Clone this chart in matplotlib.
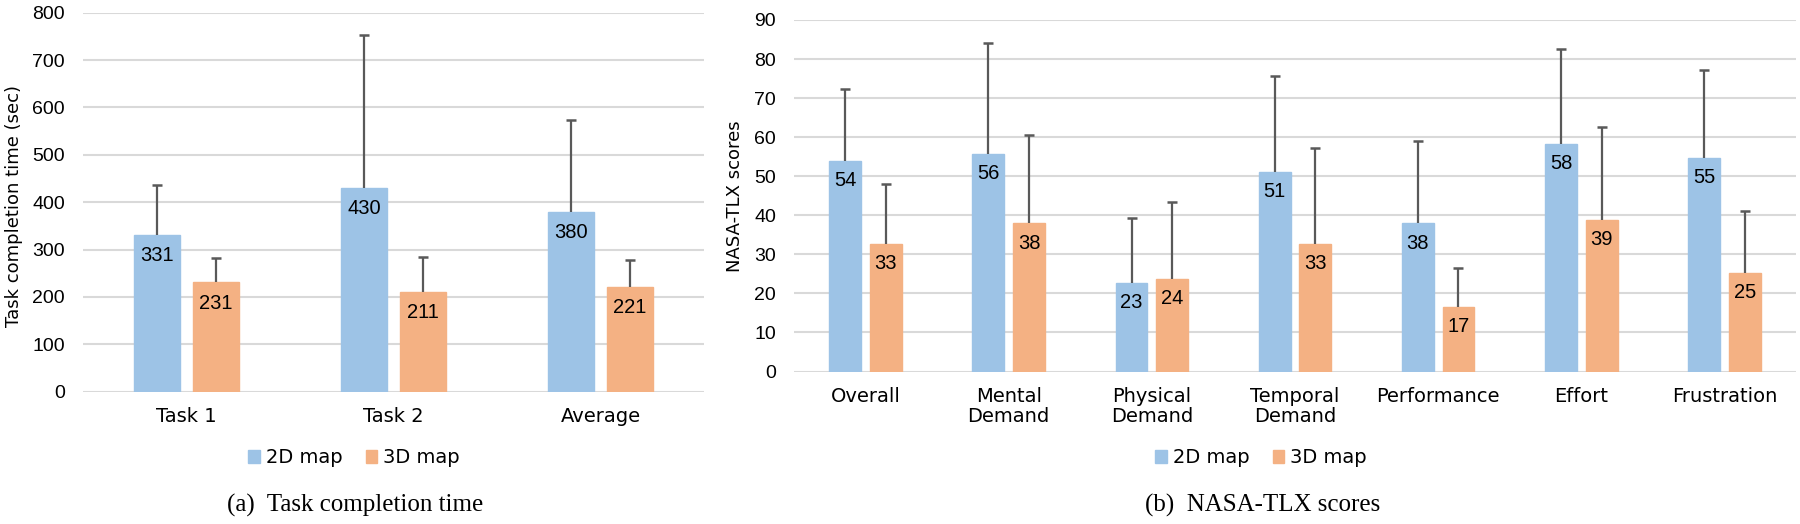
import numpy as np
import matplotlib
matplotlib.use("Agg")
from matplotlib import pyplot as plt
from matplotlib.patches import Patch

# (a) task completion time
tasks = ["Task 1", "Task 2", "Average"]
time_2d = [331, 430, 380]
time_3d = [231, 211, 221]
time_2d_sd = [106, 322, 193]
time_3d_sd = [51, 74, 56]

# (b) NASA-TLX
tlx_cats = ["Overall", "Mental\nDemand", "Physical\nDemand", "Temporal\nDemand",
            "Performance", "Effort", "Frustration"]
tlx_2d = [53.9, 55.7, 22.6, 51.1, 37.9, 58.2, 54.6]
tlx_3d = [32.6, 37.9, 23.8, 32.6, 16.6, 38.7, 25.3]
tlx_2d_sd = [18.5, 28.5, 16.7, 24.5, 21.0, 24.3, 22.7]
tlx_3d_sd = [15.3, 22.6, 19.7, 24.7, 9.8, 23.9, 15.8]

BLUE = "#9dc3e6"
ORANGE = "#f4b183"
GRID = "#d9d9d9"
ERR = "#595959"
CAT_FONT = "DejaVu Sans"
NUM_FONT = "Liberation Sans"

fig = plt.figure(figsize=(18, 5.24), dpi=100)


def draw(ax, cats, v2, v3, s2, s3, ymax, ystep, label_off, ylabel):
    x = np.arange(len(cats))
    w, off = 0.222, 0.142
    for vals, sds, col, dx in ((v2, s2, BLUE, -off), (v3, s3, ORANGE, off)):
        vals = np.asarray(vals)
        tops = vals + np.asarray(sds)
        ax.bar(x + dx, vals, w, color=col, edgecolor=col, zorder=2)
        # one-sided error bars (upper only)
        ax.vlines(x + dx, vals, tops, color=ERR, lw=1.6, zorder=3)
        ax.plot(x + dx, tops, ls="none", marker="_", ms=7, mew=1.8,
                color=ERR, zorder=3)
        for xi, v in zip(x + dx, vals):
            ax.text(xi, v - label_off, f"{v:.0f}", ha="center", va="center",
                    fontsize=14.5, family=NUM_FONT, color="black", zorder=4)
    ax.set_xlim(-0.5, len(cats) - 0.5)
    ax.set_ylim(0, ymax)
    ax.set_yticks(np.arange(0, ymax + 1, ystep))
    ax.yaxis.grid(True, color=GRID, lw=1.5, zorder=0)
    ax.set_axisbelow(True)
    for s in ax.spines.values():
        s.set_visible(False)
    ax.tick_params(length=0)
    ax.tick_params(axis="y", pad=13, labelsize=14)
    ax.tick_params(axis="x", pad=11)
    for t in ax.get_yticklabels():
        t.set_family(NUM_FONT)
    ax.set_xticks(x)
    ax.set_xticklabels(cats, fontsize=14, family=CAT_FONT, linespacing=1.05, va="top")
    ax.set_ylabel(ylabel, fontsize=13, family=CAT_FONT)


ax1 = fig.add_axes([83 / 1800, 1 - 391.7 / 524, 621 / 1800, 379 / 524])
draw(ax1, tasks, time_2d, time_3d, time_2d_sd, time_3d_sd, 800, 100, 44,
     "Task completion time (sec)")
ax1.yaxis.set_label_coords(-0.097, 0.49)

ax2 = fig.add_axes([794 / 1800, 1 - 371.5 / 524, 1002 / 1800, 351.5 / 524])
draw(ax2, tlx_cats, tlx_2d, tlx_3d, tlx_2d_sd, tlx_3d_sd, 90, 10, 5,
     "NASA-TLX scores")
ax2.yaxis.set_label_coords(-0.05, 0.5)

handles = [Patch(color=BLUE, label="2D map"), Patch(color=ORANGE, label="3D map")]
for cx in (354 / 1800, 1261 / 1800):
    fig.legend(handles=handles, loc="center", bbox_to_anchor=(cx, 1 - 458 / 524),
               ncol=2, frameon=False, handlelength=0.6, handleheight=0.6,
               handletextpad=0.3, columnspacing=1.2,
               prop={"family": CAT_FONT, "size": 14})

fig.text(355 / 1800, 1 - 505 / 524, "(a)  Task completion time", ha="center",
         va="center", fontsize=18, family="Liberation Serif")
fig.text(1263 / 1800, 1 - 505 / 524, "(b)  NASA-TLX scores", ha="center",
         va="center", fontsize=18, family="Liberation Serif")

fig.savefig("out.png", dpi=100)
